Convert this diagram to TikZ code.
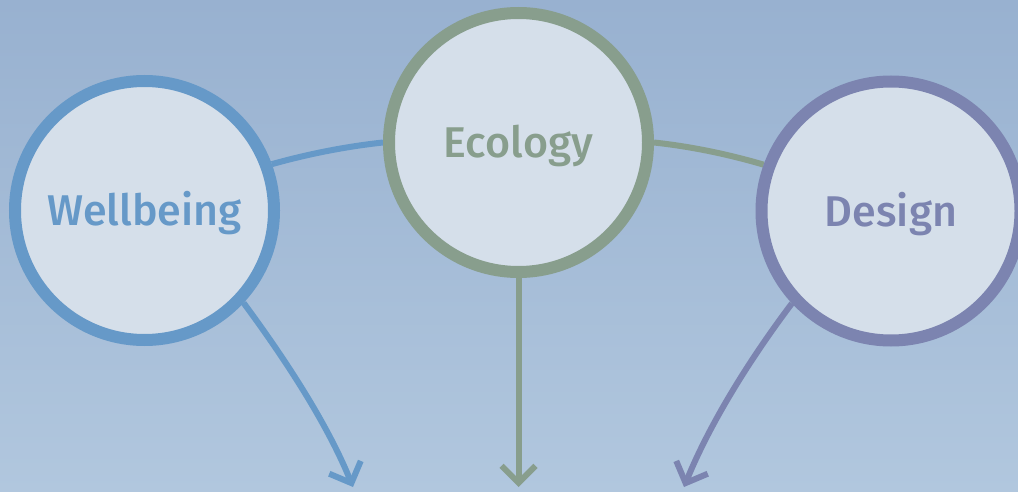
\documentclass[tikz,border=0pt]{standalone}
\usepackage{fontspec}
\newfontfamily\labfont{Fira Sans Medium}
\usetikzlibrary{arrows.meta}
\definecolor{bgtop}{HTML}{98B1D0}
\definecolor{bgbot}{HTML}{B1C7DE}
\definecolor{fillc}{HTML}{D5DFEA}
\definecolor{cblue}{HTML}{6699C8}
\definecolor{cgreen}{HTML}{889E8D}
\definecolor{cpurple}{HTML}{7C84B0}
\pgfdeclarelayer{bg}
\pgfsetlayers{bg,main}
\tikzset{
  topic/.style={circle, draw=#1, text=#1, fill=fillc, line width=12pt,
    minimum size=259pt, inner sep=0pt, font=\labfont\fontsize{43}{50}\selectfont,
    text height=30pt, text depth=0pt},
  link/.style={draw=#1, line width=6pt},
  flow/.style={draw=#1, line width=6pt, -{Straight Barb[length=17pt,width=34pt]}}
}
\begin{document}
\begin{tikzpicture}[x=1pt,y=-1pt]
\useasboundingbox (0,0) rectangle (1018,492);
\clip (0,0) rectangle (1018,492);
\begin{pgfonlayer}{bg}
\shade[top color=bgtop,bottom color=bgbot] (0,0) rectangle (1018,492);
\end{pgfonlayer}
\node[topic=cblue] (w) at (144.5,210.5) {Wellbeing};
\node[topic=cgreen] (e) at (518.5,142.5) {Ecology};
\node[topic=cpurple] (d) at (891,211) {Design};
\coordinate (wt) at (353,487);
\coordinate (et) at (518.5,487);
\coordinate (dt) at (684,487);
\begin{pgfonlayer}{bg}
\path[link=cblue] (w.20) .. controls (308,154) and (346,146.5) .. (e.180);
\path[link=cgreen] (e.0) .. controls (690.7,146.5) and (727.3,154) .. (d.160);
\end{pgfonlayer}
\path[flow=cblue] (w.-43) .. controls (285,359) and (327,423) .. (wt);
\path[flow=cgreen] (e.south) -- (et);
\path[flow=cpurple] (d.-137) .. controls (750,359) and (710,423) .. (dt);
\end{tikzpicture}
\end{document}
